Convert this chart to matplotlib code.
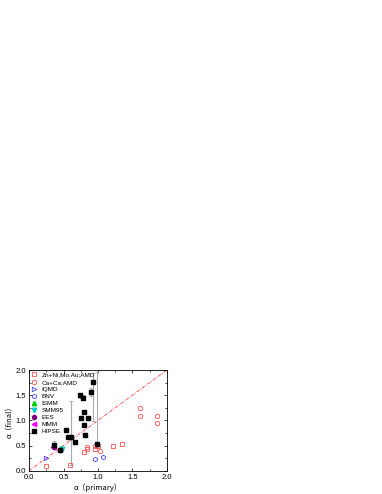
import matplotlib
matplotlib.use("Agg")
import matplotlib.pyplot as plt
import numpy as np

plt.rcParams['font.family'] = ['Liberation Sans', 'DejaVu Sans']

zn_x = [0.25, 0.60, 0.80, 0.84, 0.96, 1.00, 1.22, 1.35]
zn_y = [0.10, 0.11, 0.37, 0.43, 0.44, 0.49, 0.49, 0.54]
ca_x = [0.84, 0.96, 1.03, 1.61, 1.61, 1.85, 1.85]
ca_y = [0.48, 0.49, 0.40, 1.24, 1.09, 1.08, 0.95]
iqmd_x = [0.25]
iqmd_y = [0.26]
bnv_x = [0.96, 1.07]
bnv_y = [0.24, 0.28]
ismm_x = [0.46]
ismm_y = [0.45]
smm_x = [0.48]
smm_y = [0.44]
ees_x = [0.36, 0.45]
ees_y = [0.48, 0.42]
mmm_x = [0.35]
mmm_y = [0.47]
hip_x = [0.36, 0.45, 0.53, 0.57, 0.61, 0.67, 0.74, 0.78, 0.75, 0.79, 0.80, 0.85, 0.81, 0.90, 0.93, 0.98]
hip_y = [0.52, 0.42, 0.80, 0.67, 0.67, 0.58, 1.50, 1.45, 1.04, 1.16, 0.91, 1.04, 0.72, 1.57, 1.76, 0.53]
hip_elo = [0.08, 0.00, 0.00, 0.00, 0.56, 0.00, 0.05, 0.05, 0.00, 0.00, 0.00, 0.00, 0.00, 0.08, 0.78, 0.05]
hip_ehi = [0.08, 0.00, 0.00, 0.00, 0.72, 0.00, 0.05, 0.05, 0.00, 0.00, 0.00, 0.00, 0.00, 0.08, 0.18, 1.44]

fig = plt.figure(figsize=(3.82, 4.94), dpi=100)
ax = fig.add_axes([0.076, 0.047, 0.361, 0.204])

ax.plot([0, 2], [0, 2], color='#ff4040', ls=(0, (4, 1.5, 1, 1.5)), lw=0.6, zorder=1)

ms = 3.2
ax.errorbar(hip_x, hip_y, yerr=[hip_elo, hip_ehi], fmt='none', ecolor='#aaaaaa', elinewidth=0.8, capsize=1.2, capthick=0.6, zorder=2)
ax.plot(zn_x, zn_y, ls='none', marker='s', mfc='none', mec='#ff5050', mew=0.6, ms=ms, label='Zn+Ni,Mo,Au;AMD', zorder=3)
ax.plot(ca_x, ca_y, ls='none', marker='o', mfc='none', mec='#ff5050', mew=0.6, ms=ms, label='Ca+Ca;AMD', zorder=3)
ax.plot(iqmd_x, iqmd_y, ls='none', marker='>', mfc='none', mec='#4040ff', mew=0.6, ms=ms, label='IQMD', zorder=3)
ax.plot(bnv_x, bnv_y, ls='none', marker='h', mfc='none', mec='#4040ff', mew=0.6, ms=ms, label='BNV', zorder=3)
ax.plot(ismm_x, ismm_y, ls='none', marker='^', mfc='#00cc00', mec='#00cc00', ms=ms, label='ISMM', zorder=3)
ax.plot(smm_x, smm_y, ls='none', marker='v', mfc='#00cccc', mec='#00cccc', ms=ms, label='SMM95', zorder=4)
ax.plot(ees_x, ees_y, ls='none', marker='h', mfc='#800080', mec='#800080', ms=ms, label='EES', zorder=5)
ax.plot(mmm_x, mmm_y, ls='none', marker='<', mfc='#ff00ff', mec='#ff00ff', ms=ms, label='MMM', zorder=4)
ax.plot(hip_x, hip_y, ls='none', marker='s', mfc='black', mec='black', ms=ms, label='HIPSE', zorder=6)

ax.set_xlim(0, 2.0)
ax.set_ylim(0, 2.0)
ax.set_xticks([0, 0.5, 1.0, 1.5, 2.0])
ax.set_yticks([0, 0.5, 1.0, 1.5, 2.0])
ax.set_xticks(np.arange(0, 2.01, 0.25), minor=True)
ax.set_yticks(np.arange(0, 2.01, 0.25), minor=True)
ax.set_xticklabels(['0.0', '0.5', '1.0', '1.5', '2.0'])
ax.set_yticklabels(['0.0', '0.5', '1.0', '1.5', '2.0'])
ax.tick_params(which='both', direction='in', top=True, right=True, labelsize=5.5, width=0.5, pad=2)
ax.tick_params(which='major', length=2.5)
ax.tick_params(which='minor', length=1.5)
for s in ax.spines.values():
    s.set_linewidth(0.6)

ax.set_xlabel('α（primary）', fontsize=5.5, labelpad=2, family=['Noto Sans CJK SC', 'DejaVu Sans'])
ax.set_ylabel('α（final）', fontsize=5.5, labelpad=1.5, family=['Noto Sans CJK SC', 'DejaVu Sans'])

leg = ax.legend(loc='upper left', frameon=False, fontsize=4.6, handlelength=1.0, handletextpad=0.6,
                labelspacing=0.25, borderaxespad=0.15, borderpad=0.2, numpoints=1, markerscale=1.0)

fig.savefig('out.png', dpi=100)
